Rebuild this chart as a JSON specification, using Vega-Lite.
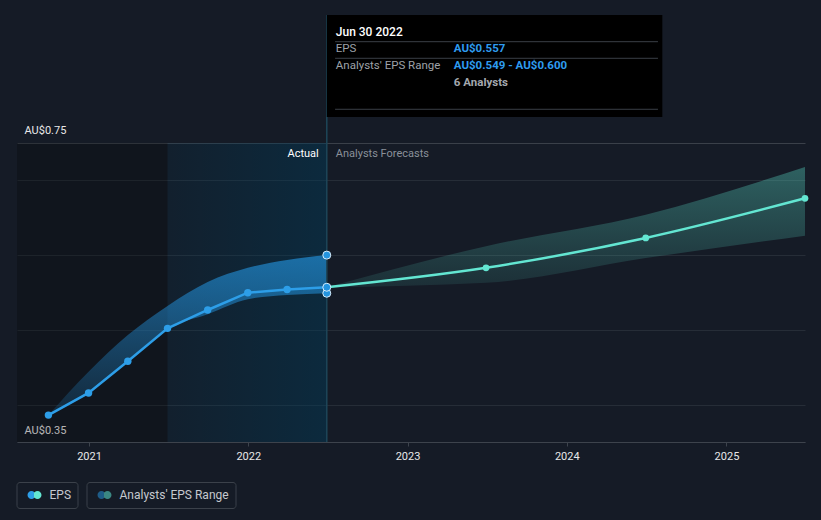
{
  "$schema": "https://vega.github.io/schema/vega-lite/v6.json",
  "width": 788,
  "height": 427,
  "autosize": {"type": "none"},
  "padding": {"left": 17, "top": 15, "right": 16, "bottom": 78},
  "background": "#151b26",
  "config": {
    "view": {"stroke": null},
    "font": "Roboto"
  },
  "datasets": {
    "hist": [
      {"date": "2020-09-30", "eps": 0.386, "low": 0.386, "high": 0.386},
      {"date": "2020-12-31", "eps": 0.4156, "low": 0.4156, "high": 0.444},
      {"date": "2021-03-31", "eps": 0.458, "low": 0.458, "high": 0.493},
      {"date": "2021-06-30", "eps": 0.502, "low": 0.502, "high": 0.532},
      {"date": "2021-09-30", "eps": 0.5266, "low": 0.521, "high": 0.564},
      {"date": "2021-12-31", "eps": 0.5497, "low": 0.541, "high": 0.583},
      {"date": "2022-03-31", "eps": 0.554, "low": 0.5465, "high": 0.5935},
      {"date": "2022-06-30", "eps": 0.557, "low": 0.549, "high": 0.6}
    ],
    "fc": [
      {"date": "2022-06-30", "eps": 0.557, "low": 0.557, "high": 0.557},
      {"date": "2023-06-30", "eps": 0.583, "low": 0.563, "high": 0.612},
      {"date": "2024-06-30", "eps": 0.623, "low": 0.596, "high": 0.654},
      {"date": "2025-06-30", "eps": 0.676, "low": 0.626, "high": 0.718}
    ]
  },
  "layer": [
    {
      "data": {"values": [{"start": "2020-07-20", "end": "2021-06-30"}]},
      "mark": {"type": "rect", "fill": "#000000", "fillOpacity": 0.22},
      "encoding": {
        "x": {
          "field": "start", "type": "temporal",
          "scale": {"type": "utc", "domain": [1595203200000, 1751241600000]},
          "axis": {
            "values": [1609459200000, 1640995200000, 1672531200000, 1704067200000, 1735689600000],
            "format": "%Y", "title": null, "grid": false,
            "domainColor": "#3d434c", "tickColor": "#3d434c", "tickSize": 4,
            "labelColor": "#e8e8e8", "labelFont": "Roboto", "labelFontSize": 11, "labelPadding": 4
          }
        },
        "x2": {"field": "end"},
        "y": {
          "datum": 0.75, "type": "quantitative",
          "scale": {"domain": [0.35, 0.9212], "nice": false, "zero": false},
          "axis": {
            "values": [0.35, 0.4, 0.5, 0.6, 0.7, 0.75],
            "labelExpr": "datum.value === 0.35 || datum.value === 0.75 ? 'AU$' + format(datum.value, '.2f') : ''",
            "title": null, "domain": false, "ticks": false, "tickSize": 0,
            "grid": true,
            "gridColor": {"condition": {"test": "datum.value === 0.75", "value": "#3a4049"}, "value": "#262d37"},
            "labelAlign": "left", "labelBaseline": "middle", "labelPadding": -7, "labelOffset": -12,
            "labelColor": "#e8e8e8", "labelFont": "Roboto", "labelFontSize": 11
          }
        },
        "y2": {"datum": 0.35}
      }
    },
    {
      "data": {"values": [{"start": "2021-06-30", "end": "2022-06-30"}]},
      "mark": {
        "type": "rect",
        "fill": {"gradient": "linear", "x1": 0, "y1": 0, "x2": 1, "y2": 0,
          "stops": [{"offset": 0, "color": "rgba(0,60,90,0.15)"}, {"offset": 1, "color": "rgba(0,60,90,0.45)"}]}
      },
      "encoding": {
        "x": {"field": "start", "type": "temporal"},
        "x2": {"field": "end"},
        "y": {"datum": 0.75, "type": "quantitative"},
        "y2": {"datum": 0.35}
      }
    },
    {
      "data": {"name": "hist"},
      "mark": {
        "type": "area", "interpolate": "monotone",
        "fill": {"gradient": "linear", "x1": 0, "y1": 0, "x2": 0, "y2": 1,
          "stops": [{"offset": 0, "color": "rgba(35,148,223,0.65)"}, {"offset": 1, "color": "rgba(35,148,223,0.15)"}]}
      },
      "encoding": {
        "x": {"field": "date", "type": "temporal"},
        "y": {"field": "low", "type": "quantitative"},
        "y2": {"field": "high"}
      }
    },
    {
      "data": {"name": "fc"},
      "mark": {
        "type": "area", "interpolate": "monotone",
        "fill": {"gradient": "linear", "x1": 0, "y1": 0, "x2": 0, "y2": 1,
          "stops": [{"offset": 0, "color": "rgba(90,220,200,0.36)"}, {"offset": 1, "color": "rgba(90,220,200,0.1)"}]}
      },
      "encoding": {
        "x": {"field": "date", "type": "temporal"},
        "y": {"field": "low", "type": "quantitative"},
        "y2": {"field": "high"}
      }
    },
    {
      "data": {"values": [{"date": "2022-06-30"}]},
      "mark": {"type": "rule", "color": "#1e4659", "strokeWidth": 1.5},
      "encoding": {
        "x": {"field": "date", "type": "temporal"},
        "y": {"datum": 0.35, "type": "quantitative"},
        "y2": {"datum": 0.9212}
      }
    },
    {
      "data": {"name": "hist"},
      "mark": {"type": "line", "color": "#2d9ee8", "strokeWidth": 2.5,
        "point": {"filled": true, "size": 55, "color": "#2d9ee8"}},
      "encoding": {
        "x": {"field": "date", "type": "temporal"},
        "y": {"field": "eps", "type": "quantitative"}
      }
    },
    {
      "data": {"name": "fc"},
      "mark": {"type": "line", "color": "#63e6d2", "strokeWidth": 2.5, "interpolate": "monotone",
        "point": {"filled": true, "size": 45, "color": "#63e6d2"}},
      "encoding": {
        "x": {"field": "date", "type": "temporal"},
        "y": {"field": "eps", "type": "quantitative"}
      }
    },
    {
      "data": {"values": [{"date": "2022-06-30", "v": 0.6}, {"date": "2022-06-30", "v": 0.549}, {"date": "2022-06-30", "v": 0.557}]},
      "mark": {"type": "point", "filled": true, "fill": "#2394df", "stroke": "#d6ecfb", "strokeWidth": 1, "size": 64, "opacity": 1},
      "encoding": {
        "x": {"field": "date", "type": "temporal"},
        "y": {"field": "v", "type": "quantitative"}
      }
    },
    {
      "data": {"values": [{"date": "2022-06-30", "v": 0.7353, "t": "Actual"}]},
      "mark": {"type": "text", "align": "right", "baseline": "middle", "dx": -8, "fontSize": 11, "color": "#ffffff"},
      "encoding": {
        "x": {"field": "date", "type": "temporal"},
        "y": {"field": "v", "type": "quantitative"},
        "text": {"field": "t"}
      }
    },
    {
      "data": {"values": [{"date": "2022-06-30", "v": 0.7353, "t": "Analysts Forecasts"}]},
      "mark": {"type": "text", "align": "left", "baseline": "middle", "dx": 9, "fontSize": 11, "color": "#8a9099"},
      "encoding": {
        "x": {"field": "date", "type": "temporal"},
        "y": {"field": "v", "type": "quantitative"},
        "text": {"field": "t"}
      }
    },
    {
      "data": {"values": [{"start": "2022-06-30", "end": "2024-08-07", "top": 0.9212, "bottom": 0.7848}]},
      "mark": {"type": "rect", "color": "#000000"},
      "encoding": {
        "x": {"field": "start", "type": "temporal"},
        "x2": {"field": "end"},
        "y": {"field": "top", "type": "quantitative"},
        "y2": {"field": "bottom"}
      }
    },
    {
      "data": {"values": [
        {"start": "2022-07-19", "end": "2024-07-28", "v": 0.8855},
        {"start": "2022-07-19", "end": "2024-07-28", "v": 0.8633},
        {"start": "2022-07-19", "end": "2024-07-28", "v": 0.7951}
      ]},
      "mark": {"type": "rule", "color": "#3a3f47", "strokeWidth": 1},
      "encoding": {
        "x": {"field": "start", "type": "temporal"},
        "x2": {"field": "end"},
        "y": {"field": "v", "type": "quantitative"}
      }
    },
    {
      "data": {"values": [{"date": "2022-06-30", "v": 0.8989, "t": "Jun 30 2022"}]},
      "mark": {"type": "text", "align": "left", "baseline": "middle", "dx": 9, "fontSize": 12, "fontWeight": 500, "color": "#ffffff"},
      "encoding": {
        "x": {"field": "date", "type": "temporal"},
        "y": {"field": "v", "type": "quantitative"},
        "text": {"field": "t"}
      }
    },
    {
      "data": {"values": [
        {"date": "2022-06-30", "v": 0.8753, "t": "EPS"},
        {"date": "2022-06-30", "v": 0.853, "t": "Analysts' EPS Range"}
      ]},
      "mark": {"type": "text", "align": "left", "baseline": "middle", "dx": 9, "fontSize": 11.5, "color": "#9ea2a8"},
      "encoding": {
        "x": {"field": "date", "type": "temporal"},
        "y": {"field": "v", "type": "quantitative"},
        "text": {"field": "t"}
      }
    },
    {
      "data": {"values": [
        {"date": "2022-06-30", "v": 0.8753, "t": "AU$0.557"},
        {"date": "2022-06-30", "v": 0.853, "t": "AU$0.549 - AU$0.600"}
      ]},
      "mark": {"type": "text", "align": "left", "baseline": "middle", "dx": 127, "fontSize": 11.5, "fontWeight": "bold", "color": "#2e9cf0"},
      "encoding": {
        "x": {"field": "date", "type": "temporal"},
        "y": {"field": "v", "type": "quantitative"},
        "text": {"field": "t"}
      }
    },
    {
      "data": {"values": [{"date": "2022-06-30", "v": 0.8307, "t": "6 Analysts"}]},
      "mark": {"type": "text", "align": "left", "baseline": "middle", "dx": 127, "fontSize": 11.5, "fontWeight": "bold", "color": "#a4a8ae"},
      "encoding": {
        "x": {"field": "date", "type": "temporal"},
        "y": {"field": "v", "type": "quantitative"},
        "text": {"field": "t"}
      }
    },
    {
      "data": {"values": [{"leg": "EPS"}]},
      "mark": {
        "type": "point", "filled": false, "opacity": 0, "strokeWidth": 0,
        "fill": {"gradient": "linear", "x1": 0, "y1": 0, "x2": 1, "y2": 0,
          "stops": [{"offset": 0, "color": "#2d9ee8"}, {"offset": 0.45, "color": "#2d9ee8"}, {"offset": 0.45, "color": "#63e6d2"}, {"offset": 1, "color": "#63e6d2"}]}
      },
      "encoding": {
        "color": {
          "field": "leg", "type": "nominal",
          "scale": {"domain": ["EPS"], "range": ["#2d9ee8"]},
          "legend": {
            "title": null, "orient": "none", "legendX": -0.5, "legendY": 467,
            "padding": 6, "strokeColor": "#3b414a", "cornerRadius": 3, "clipHeight": 14,
            "symbolType": "M-1,0 A0.571,0.571 0 1,1 0.143,0 A0.571,0.571 0 1,1 -1,0 Z M-0.143,0 A0.571,0.571 0 1,1 1,0 A0.571,0.571 0 1,1 -0.143,0 Z",
            "symbolSize": 196, "symbolOffset": 5, "symbolOpacity": 1, "symbolStrokeWidth": 0,
            "labelOffset": 8, "labelFont": "Roboto", "labelFontSize": 12, "labelColor": "#c5c9cf",
            "labelExpr": "datum.label + '  '"
          }
        }
      }
    },
    {
      "data": {"values": [{"leg": "Analysts' EPS Range"}]},
      "mark": {
        "type": "point", "filled": false, "opacity": 0, "strokeWidth": 0, "stroke": "transparent",
        "fill": {"gradient": "linear", "x1": 0, "y1": 0, "x2": 1, "y2": 0,
          "stops": [{"offset": 0, "color": "#1e5c88"}, {"offset": 0.45, "color": "#1e5c88"}, {"offset": 0.45, "color": "#3b8783"}, {"offset": 1, "color": "#3b8783"}]}
      },
      "encoding": {
        "shape": {
          "field": "leg", "type": "nominal",
          "scale": {"domain": ["Analysts' EPS Range"], "range": ["M-1,0 A0.571,0.571 0 1,1 0.143,0 A0.571,0.571 0 1,1 -1,0 Z M-0.143,0 A0.571,0.571 0 1,1 1,0 A0.571,0.571 0 1,1 -0.143,0 Z"]},
          "legend": {
            "title": null, "orient": "none", "legendX": 69.5, "legendY": 467,
            "padding": 6, "strokeColor": "#3b414a", "cornerRadius": 3, "clipHeight": 14,
            "symbolSize": 196, "symbolOffset": 5, "symbolOpacity": 1, "symbolStrokeWidth": 0,
            "labelOffset": 8, "labelFont": "Roboto", "labelFontSize": 12, "labelColor": "#c5c9cf",
            "labelExpr": "datum.label + ' '"
          }
        }
      }
    }
  ]
}
